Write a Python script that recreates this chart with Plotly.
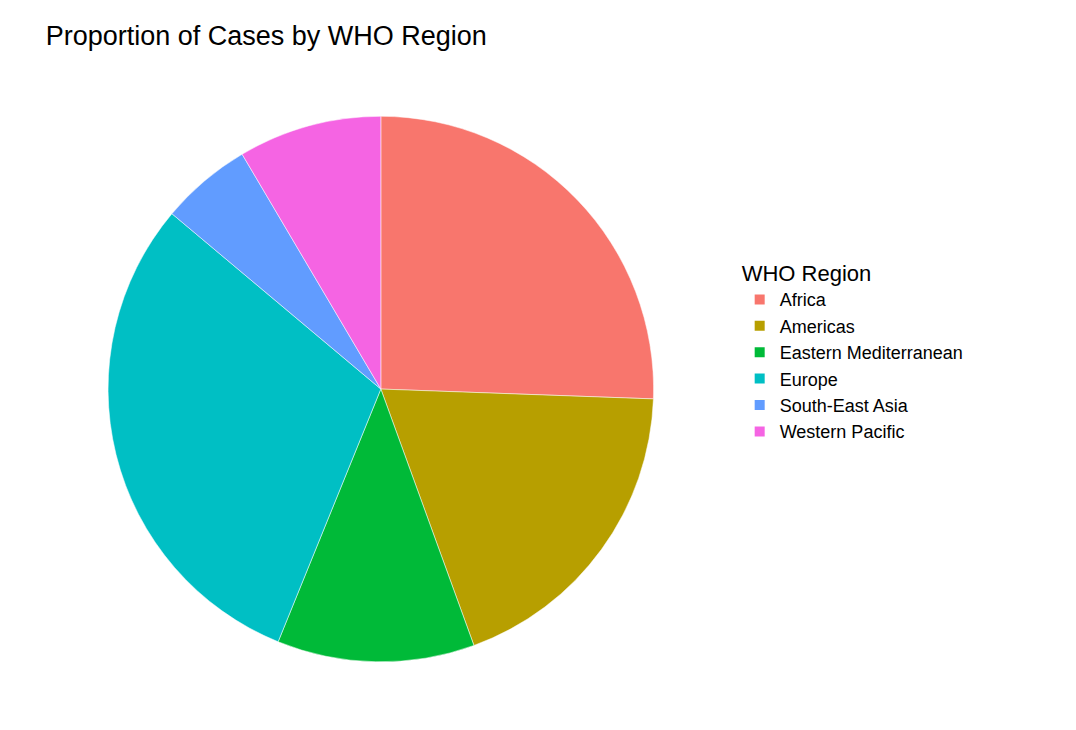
import plotly.graph_objects as go

regions = ["Africa", "Americas", "Eastern Mediterranean", "Europe", "South-East Asia", "Western Pacific"]
share = [25.6, 18.9, 11.7, 30.0, 5.4, 8.5]
colors = ["#F8766D", "#B79F00", "#00BA38", "#00BFC4", "#619CFF", "#F564E3"]

fig = go.Figure(go.Pie(
    labels=regions, values=share, sort=False, direction="clockwise",
    rotation=0, textinfo="none", hoverinfo="label+percent",
    marker=dict(colors=colors, line=dict(color="white", width=0.5)),
    domain=dict(x=[0.093, 0.6], y=[0.104, 0.852]),
))
fig.update_layout(
    width=1076, height=730,
    margin=dict(l=0, r=0, t=0, b=0),
    paper_bgcolor="white",
    font=dict(family="Liberation Sans, Arial", color="black"),
    title=dict(text="Proportion of Cases by WHO Region", x=0.035, y=0.962,
               xanchor="left", yanchor="middle", font=dict(size=27)),
    legend=dict(title=dict(text="WHO Region", font=dict(size=22)),
                x=0.68, y=0.53, xanchor="left", yanchor="middle",
                font=dict(size=18), itemsizing="constant"),
)
fig.write_html("out.html")
